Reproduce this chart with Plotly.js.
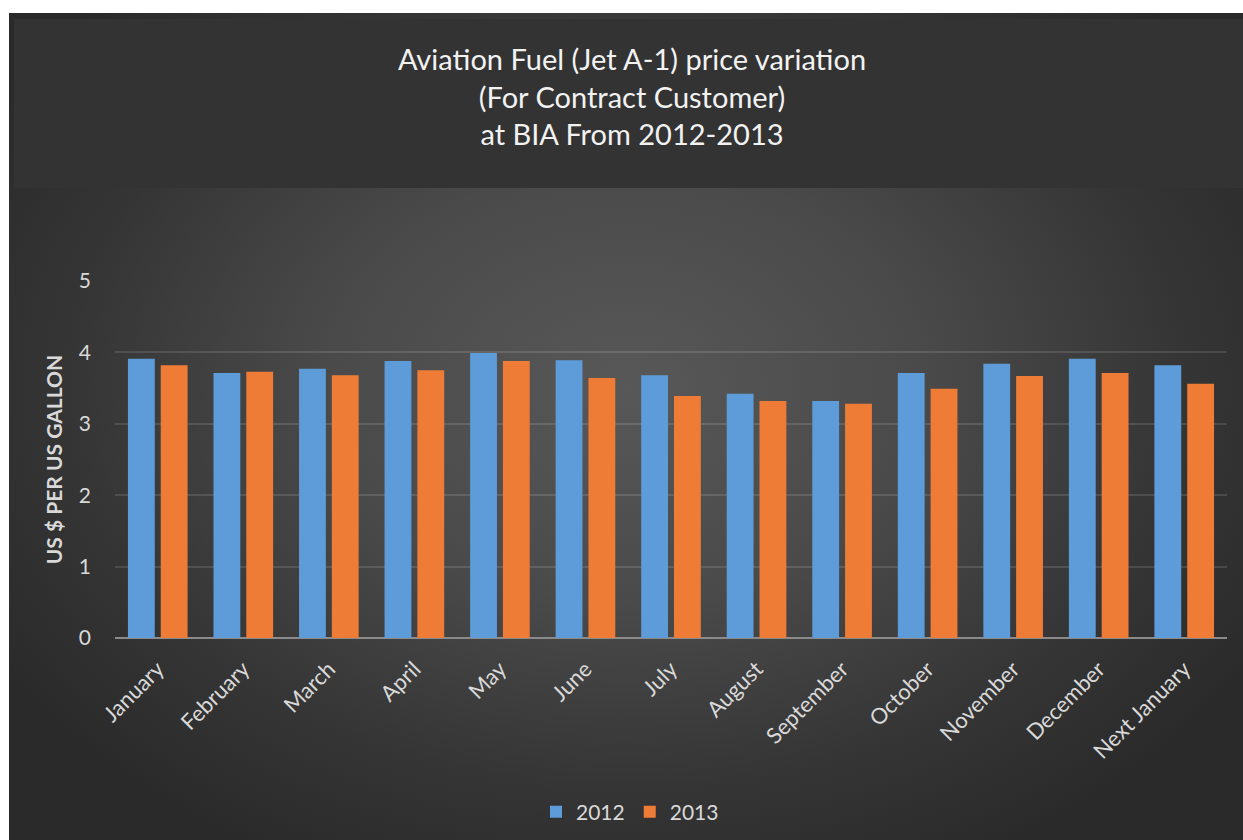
<!DOCTYPE html>
<html>
<head>
<meta charset="utf-8">
<script src="https://cdn.plot.ly/plotly-3.0.1.min.js"></script>
<style>
  html, body { margin: 0; padding: 0; background: #ffffff; }
  #bg { position: absolute; left: 9px; top: 13px; width: 1234px; height: 827px;
        background: radial-gradient(ellipse 60% 65% at 50% 45%, #585858 0%, #4a4a4a 40%, #353535 75%, #2a2a2a 100%); }
  #chart { position: absolute; left: 0; top: 0; width: 1243px; height: 840px; }
</style>
</head>
<body>
<div id="bg"></div>
<div id="chart"></div>
<script>
const months = ["January", "February", "March", "April", "May", "June", "July", "August", "September", "October", "November", "December", "Next January"];
const price2012 = [3.91, 3.71, 3.77, 3.88, 3.99, 3.89, 3.68, 3.42, 3.32, 3.71, 3.84, 3.91, 3.82];
const price2013 = [3.82, 3.73, 3.68, 3.75, 3.88, 3.64, 3.39, 3.32, 3.28, 3.49, 3.67, 3.71, 3.56];
const yTicks = [0, 1, 2, 3, 4, 5];

const textColor = "#d9d9d9";
const fontFam = "Lato, 'Open Sans', sans-serif";

const traces = [
  { type: "bar", name: "2012", x: months, y: price2012,
    marker: { color: "#5d9cd8", line: { width: 0 } } },
  { type: "bar", name: "2013", x: months, y: price2013,
    marker: { color: "#ef7c36", line: { width: 0 } } }
];

const L = 115, R = 1227, T = 281, B = 638;
const W = R - L, H = B - T;
function px(x) { return (x - L) / W; }
function py(y) { return (B - y) / H; }

const layout = {
  width: 1243, height: 840,
  paper_bgcolor: "rgba(0,0,0,0)",
  plot_bgcolor: "rgba(0,0,0,0)",
  margin: { l: L, r: 1243 - R, t: T, b: 840 - B, pad: 0, autoexpand: false },
  barmode: "group",
  bargap: 0.233,
  bargroupgap: 0.182,
  font: { family: fontFam, color: textColor },
  title: {
    text: "Aviation Fuel (Jet A-1) price variation<br>(For Contract Customer)<br>at BIA From 2012-2013",
    font: { family: fontFam, size: 29, color: "#f2f2f2" },
    x: 632 / 1243, xref: "container", xanchor: "center",
    y: 1 - 70 / 840, yref: "container", yanchor: "middle"
  },
  xaxis: {
    type: "category",
    automargin: false,
    tickangle: -45,
    tickfont: { size: 22, color: textColor, family: fontFam },
    showgrid: false,
    showline: false,
    zeroline: false,
    ticks: "",
    ticklen: 0,
    ticklabelstandoff: 13
  },
  yaxis: {
    range: [0, 5],
    automargin: false,
    tickvals: yTicks,
    ticktext: yTicks.map(String),
    tickfont: { size: 21, color: textColor, family: fontFam },
    showgrid: true,
    gridcolor: "rgba(255,255,255,0.12)",
    gridwidth: 2,
    zeroline: true,
    zerolinecolor: "#8a8a8a",
    zerolinewidth: 2.5,
    showline: false,
    ticks: "",
    ticklabelstandoff: 23,
    title: {
      text: "<b>US $ PER US GALLON</b>",
      font: { size: 21, color: textColor, family: fontFam },
      standoff: 10
    }
  },
  legend: {
    orientation: "h",
    x: 630 / 1243, xref: "container", xanchor: "center",
    y: py(812), yanchor: "middle",
    font: { size: 21, color: textColor, family: fontFam },
    bgcolor: "rgba(0,0,0,0)",
    itemwidth: 30,
    traceorder: "normal"
  },
  shapes: [
    { type: "rect", xref: "paper", yref: "paper", layer: "below",
      x0: px(14), x1: px(1243), y0: py(188), y1: py(19),
      fillcolor: "#333333", line: { width: 0 } }
  ]
};

Plotly.newPlot("chart", traces, layout, { displayModeBar: false, staticPlot: true });
</script>
</body>
</html>
